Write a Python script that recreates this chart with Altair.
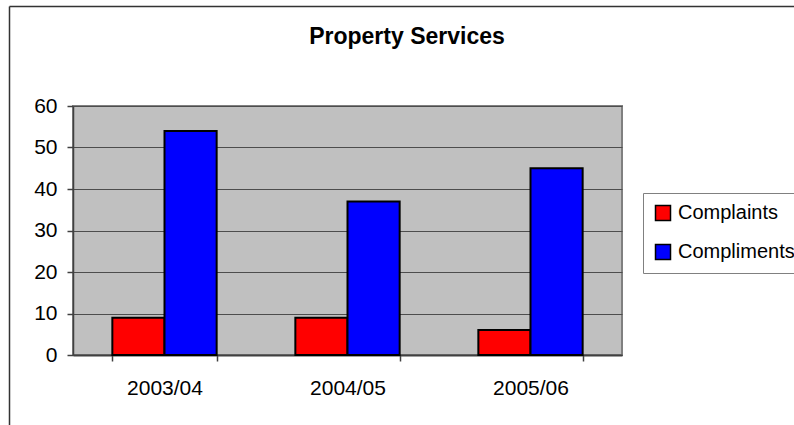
import altair as alt
import pandas as pd

years = ["2003/04", "2004/05", "2005/06"]
series = ["Complaints", "Compliments"]
complaints = [9, 9, 6]
compliments = [54, 37, 45]
colors = ["#FF0000", "#0000FF"]
y_ticks = [0, 10, 20, 30, 40, 50, 60]
title_text = "Property Services"

rows = []
for i, yr in enumerate(years):
    rows.append({"year": yr, "type": series[0], "value": complaints[i]})
    rows.append({"year": yr, "type": series[1], "value": compliments[i]})
df = pd.DataFrame(rows)

FONT = "Liberation Sans"

bars = alt.Chart(df).mark_bar(stroke="black", strokeWidth=2).encode(
    x=alt.X(
        "year:N",
        sort=years,
        scale=alt.Scale(paddingInner=0.43, paddingOuter=0.215),
        axis=alt.Axis(
            title=None, labelAngle=0, tickBand="extent", grid=False,
            domainColor="#404040", domainWidth=2, tickColor="#404040", tickSize=6,
            tickWidth=1.5, labelPadding=16, labelFontSize=21,
        ),
    ),
    xOffset=alt.XOffset("type:N", sort=series,
                        scale=alt.Scale(paddingInner=0, paddingOuter=0)),
    y=alt.Y(
        "value:Q",
        scale=alt.Scale(domain=[0, 60], nice=False),
        axis=alt.Axis(
            title=None, values=y_ticks, grid=True, gridColor="#4d4d4d", gridWidth=1.2,
            domainColor="#404040", domainWidth=1.5, tickColor="#404040", tickSize=6,
            tickWidth=1.5, labelPadding=10, labelFontSize=21,
        ),
    ),
    color=alt.Color(
        "type:N",
        sort=series,
        scale=alt.Scale(domain=series, range=colors),
        legend=alt.Legend(
            title=None, orient="none", legendX=570, legendY=87,
            strokeColor="#808080", fillColor="white", padding=10, rowPadding=17,
            symbolType="square", symbolSize=225, symbolStrokeColor="black",
            symbolStrokeWidth=1.5, symbolOpacity=1, labelFont=FONT, labelFontSize=20,
            labelColor="black", labelOffset=5,
        ),
    ),
)

title = alt.Chart(pd.DataFrame({"t": [title_text]})).mark_text(
    font=FONT, fontSize=23, fontWeight="bold", color="black",
    align="center", baseline="alphabetic",
).encode(text="t:N", x=alt.value(334), y=alt.value(-62.5))

one = pd.DataFrame({"a": [0]})
left_border = alt.Chart(one).mark_rule(color="#333333", strokeWidth=1.5).encode(
    x=alt.value(-63.5), y=alt.value(-99.5), y2=alt.value(330)
)
top_border = alt.Chart(one).mark_rule(color="#333333", strokeWidth=1.5).encode(
    x=alt.value(-63.5), x2=alt.value(730), y=alt.value(-99.5)
)

chart = alt.layer(bars, title, left_border, top_border).properties(
    width=549,
    height=249,
    autosize=alt.AutoSizeParams(type="none"),
    padding={"left": 73, "top": 106, "right": 172, "bottom": 70},
    background="white",
).configure_view(
    fill="#C0C0C0", stroke="#808080", strokeWidth=2
).configure_axis(
    labelFont=FONT, labelColor="black"
)

chart.save("out.html", embed_options={"renderer": "svg", "actions": False})
